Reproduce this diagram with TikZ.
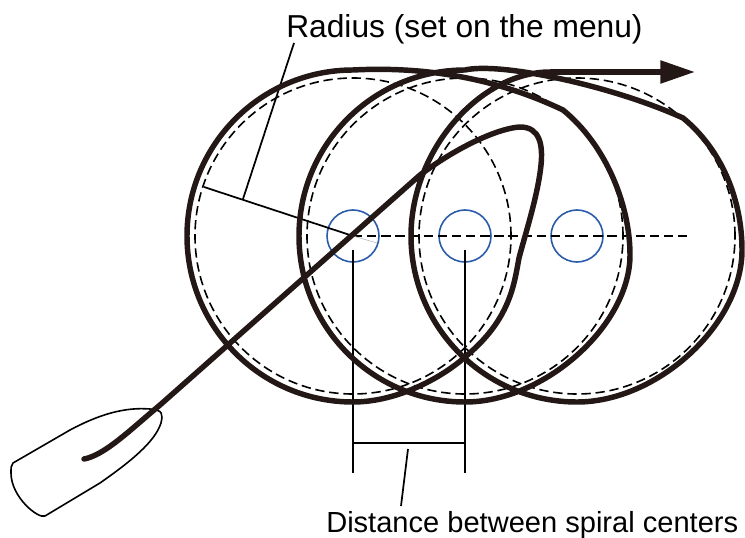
\documentclass[tikz,border=0pt]{standalone}
\usepackage{fontspec}
\setmainfont{Liberation Sans}
\usetikzlibrary{arrows.meta}
\definecolor{spiralink}{HTML}{231815}
\definecolor{centerblue}{HTML}{2A5CAA}
\tikzset{
  turncircle/.style={circle, draw, dash pattern=on 7pt off 3.6pt, line width=1.2pt, minimum size=237pt, inner sep=0pt, outer sep=0pt},
  centermark/.style={circle, draw=centerblue, line width=1.2pt, minimum size=39pt, inner sep=0pt, outer sep=0pt},
  spiraltrack/.style={line width=4.1pt, spiralink, line cap=round, line join=round},
  thinline/.style={line width=1.3pt, black},
  axisline/.style={line width=1.3pt, black, dash pattern=on 7pt off 3.6pt},
  boatline/.style={line width=1.2pt, black, line join=round},
  caption/.style={inner sep=0pt, anchor=base west}
}
\begin{document}
\begin{tikzpicture}[x=0.75pt, y=-0.75pt]
  \useasboundingbox (0,0) rectangle (745,538);

  \node[turncircle] (turn1) at (353,236) {};
  \node[turncircle] (turn2) at (465,236) {};
  \node[turncircle] (turn3) at (577,236) {};
  \node[centermark] (center1) at (353,236) {};
  \node[centermark] (center2) at (465,236) {};
  \node[centermark] (center3) at (577,236) {};

  \coordinate (axisend) at (690,236);
  \coordinate (rim) at (204,187);
  \coordinate (shade) at (377,243);
  \coordinate (radiusfoot) at (243,199);
  \coordinate (radiustop) at (294,43);
  \coordinate (dimtop1) at (353,250);
  \coordinate (dimtop2) at (465,250);
  \coordinate (dimlow1) at (353,473);
  \coordinate (dimlow2) at (465,473);
  \coordinate (dimbar1) at (353,443);
  \coordinate (dimbar2) at (465,443);
  \coordinate (gapfoot) at (408,449);
  \coordinate (gaptop) at (401,506);
  \coordinate (trackexit) at (550,72);
  \coordinate (tracktip) at (695,72);

  \draw[axisline] (center1.center) -- (axisend);
  \draw[line width=0.5pt, black!25] (center1.center) -- (shade);
  \draw[thinline] (center1.center) -- (rim);
  \draw[thinline] (radiusfoot) -- (radiustop);
  \draw[thinline] (dimtop1) -- (dimlow1);
  \draw[thinline] (dimtop2) -- (dimlow2);
  \draw[thinline] (dimbar1) -- (dimbar2);
  \draw[thinline] (gapfoot) -- (gaptop);

  \draw[boatline] (13,463) -- (70,430) .. controls (100,414) and (125,407) .. (150,409)
    .. controls (163,410) and (163,414) .. (161,423) .. controls (155,442) and (130,462) .. (100,483)
    -- (45,516) .. controls (38,519) and (11,497) .. (11,473) .. controls (11,468) and (11,465) .. (13,463);

  \draw[spiraltrack] (84,459) .. controls (105,455) and (130,430) .. (160,405) -- (420,175)
    .. controls (460,145) and (500,128) .. (520,127) .. controls (540,127) and (543,145) .. (541,165)
    .. controls (538,195) and (525,235) .. (519,258) .. controls (514,285) and (510,320) .. (465,357)
    .. controls (445,375) and (400,402) .. (353,402) arc[start angle=90, end angle=270, radius=166]
    .. controls (430,66) and (500,80) .. (563,110) .. controls (606,145) and (630,205) .. (630,255)
    .. controls (630,325) and (545,402) .. (465,402) arc[start angle=90, end angle=270, radius=166]
    .. controls (500,62) and (610,85) .. (683,118) .. controls (722,150) and (742,200) .. (742,250)
    .. controls (742,325) and (657,402) .. (577,402) arc[start angle=90, end angle=180, radius=166]
    .. controls (411,150) and (480,72) .. (trackexit);
  \draw[spiraltrack, line cap=butt, -{Triangle[length=26pt, width=16.5pt]}] (trackexit) -- (tracktip);

  \node[caption, font=\fontsize{23.8}{26}\selectfont] (radiuslabel) at (286,38) {Radius (set on the menu)};
  \node[caption, font=\fontsize{21.8}{24}\selectfont] (distancelabel) at (326,532) {Distance between spiral centers};
\end{tikzpicture}
\end{document}
